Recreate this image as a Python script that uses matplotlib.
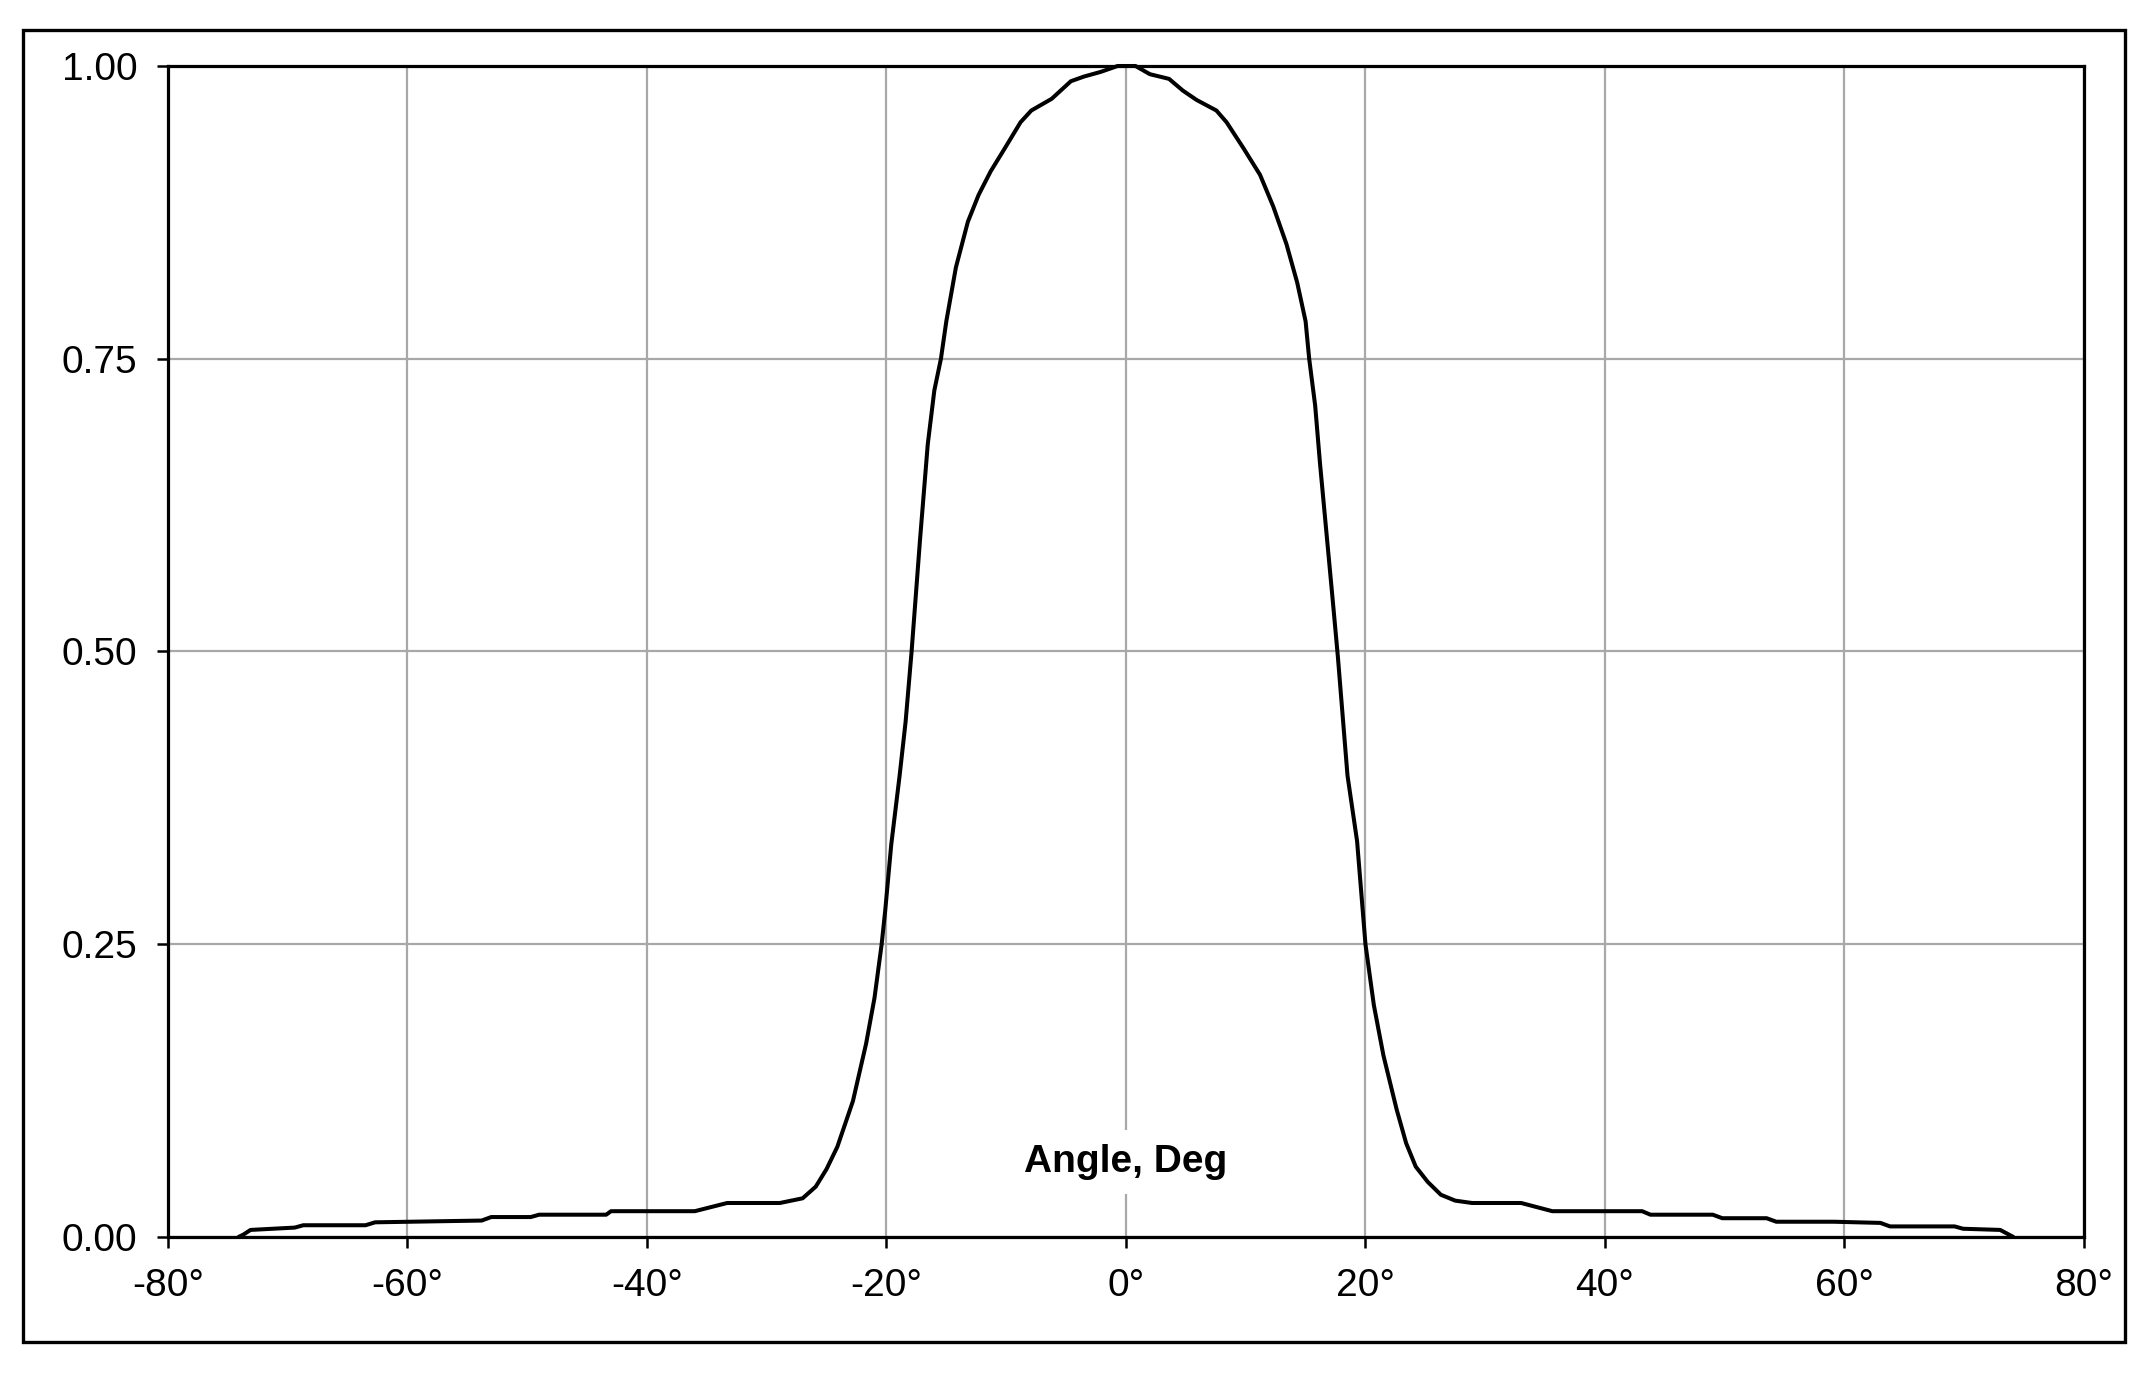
import matplotlib.pyplot as plt
from matplotlib.patches import Rectangle
from matplotlib.ticker import FuncFormatter

# angle (deg) and normalised intensity
angle = [-74.1, -73.7, -73.1, -69.4, -68.7, -63.5, -62.7, -53.8, -53.0, -49.7,
         -49.0, -43.4, -43.0, -36.0, -33.3, -28.9, -27.0, -25.9, -25.0, -24.1,
         -22.8, -21.7, -21.0, -20.4, -20.1, -19.6, -18.9, -18.4, -17.9, -17.2,
         -16.55, -16.0, -15.45, -15.0, -14.2, -13.2, -12.3, -11.3, -10.1, -8.8,
         -7.9, -6.2, -4.6, -3.5, -2.1, -0.7, 0.0,
         0.8, 2.0, 3.6, 4.75, 5.9, 7.55, 8.4, 9.8, 11.2, 12.3,
         13.4, 14.3, 15.0, 15.3, 15.8, 16.2, 16.8, 17.3, 17.7, 18.5,
         19.3, 20.0, 20.7, 21.5, 22.6, 23.4, 24.2, 25.2, 26.3, 27.5,
         28.9, 33.0, 35.6, 43.1, 43.8, 49.0, 49.8, 53.5, 54.3, 59.1,
         63.0, 63.8, 69.2, 69.9, 73.0, 74.1]
intensity = [0.0, 0.002, 0.006, 0.008, 0.010, 0.010, 0.0125, 0.014, 0.017, 0.017,
             0.019, 0.019, 0.022, 0.022, 0.029, 0.029, 0.033, 0.043, 0.058, 0.077,
             0.116, 0.165, 0.204, 0.25, 0.279, 0.335, 0.394, 0.44, 0.50, 0.595,
             0.677, 0.723, 0.75, 0.782, 0.828, 0.867, 0.89, 0.91, 0.93, 0.952,
             0.962, 0.972, 0.987, 0.991, 0.995, 1.0, 1.0,
             1.0, 0.993, 0.989, 0.979, 0.971, 0.962, 0.952, 0.93, 0.907, 0.88,
             0.848, 0.815, 0.782, 0.75, 0.71, 0.661, 0.595, 0.54, 0.495, 0.394,
             0.338, 0.25, 0.198, 0.155, 0.109, 0.08, 0.06, 0.047, 0.036, 0.031,
             0.029, 0.029, 0.022, 0.022, 0.019, 0.019, 0.016, 0.016, 0.013, 0.013,
             0.012, 0.009, 0.009, 0.007, 0.006, 0.0]

x_ticks = [-80, -60, -40, -20, 0, 20, 40, 60, 80]
y_ticks = [0.0, 0.25, 0.5, 0.75, 1.0]

plt.rcParams['font.family'] = ['Liberation Sans', 'DejaVu Sans']

fig = plt.figure(figsize=(21.5, 13.75), dpi=100)
ax = fig.add_axes([0.0781, 0.1004, 0.8912, 0.8516])

# outer frame round the whole chart
fig.patches.append(Rectangle((0.0107, 0.024), 0.9777, 0.954, transform=fig.transFigure,
                             fill=False, edgecolor='black', linewidth=2.4))

ax.plot(angle, intensity, color='black', linewidth=2.9, zorder=3, clip_on=False,
        solid_joinstyle='round', solid_capstyle='round')

ax.set_xlim(-80, 80)
ax.set_ylim(0, 1)
ax.set_xticks(x_ticks)
ax.set_yticks(y_ticks)
ax.xaxis.set_major_formatter(FuncFormatter(lambda v, p: f"{int(round(v))}°"))
ax.yaxis.set_major_formatter(FuncFormatter(lambda v, p: f"{v:.2f}"))
ax.tick_params(axis='both', direction='out', length=8, width=1.8, labelsize=28, colors='black')
ax.tick_params(axis='x', pad=14)
ax.tick_params(axis='y', pad=14)

ax.grid(True, color='#a8a8a8', linewidth=1.6, zorder=0)
ax.set_axisbelow(True)
for s in ax.spines.values():
    s.set_linewidth(2.3)
    s.set_color('black')

ax.text(0, 0.0555, "Angle, Deg", ha='center', va='baseline', fontsize=28, fontweight='bold',
        zorder=2, bbox=dict(facecolor='white', edgecolor='none', pad=10))

fig.savefig("out.png", dpi=100)
